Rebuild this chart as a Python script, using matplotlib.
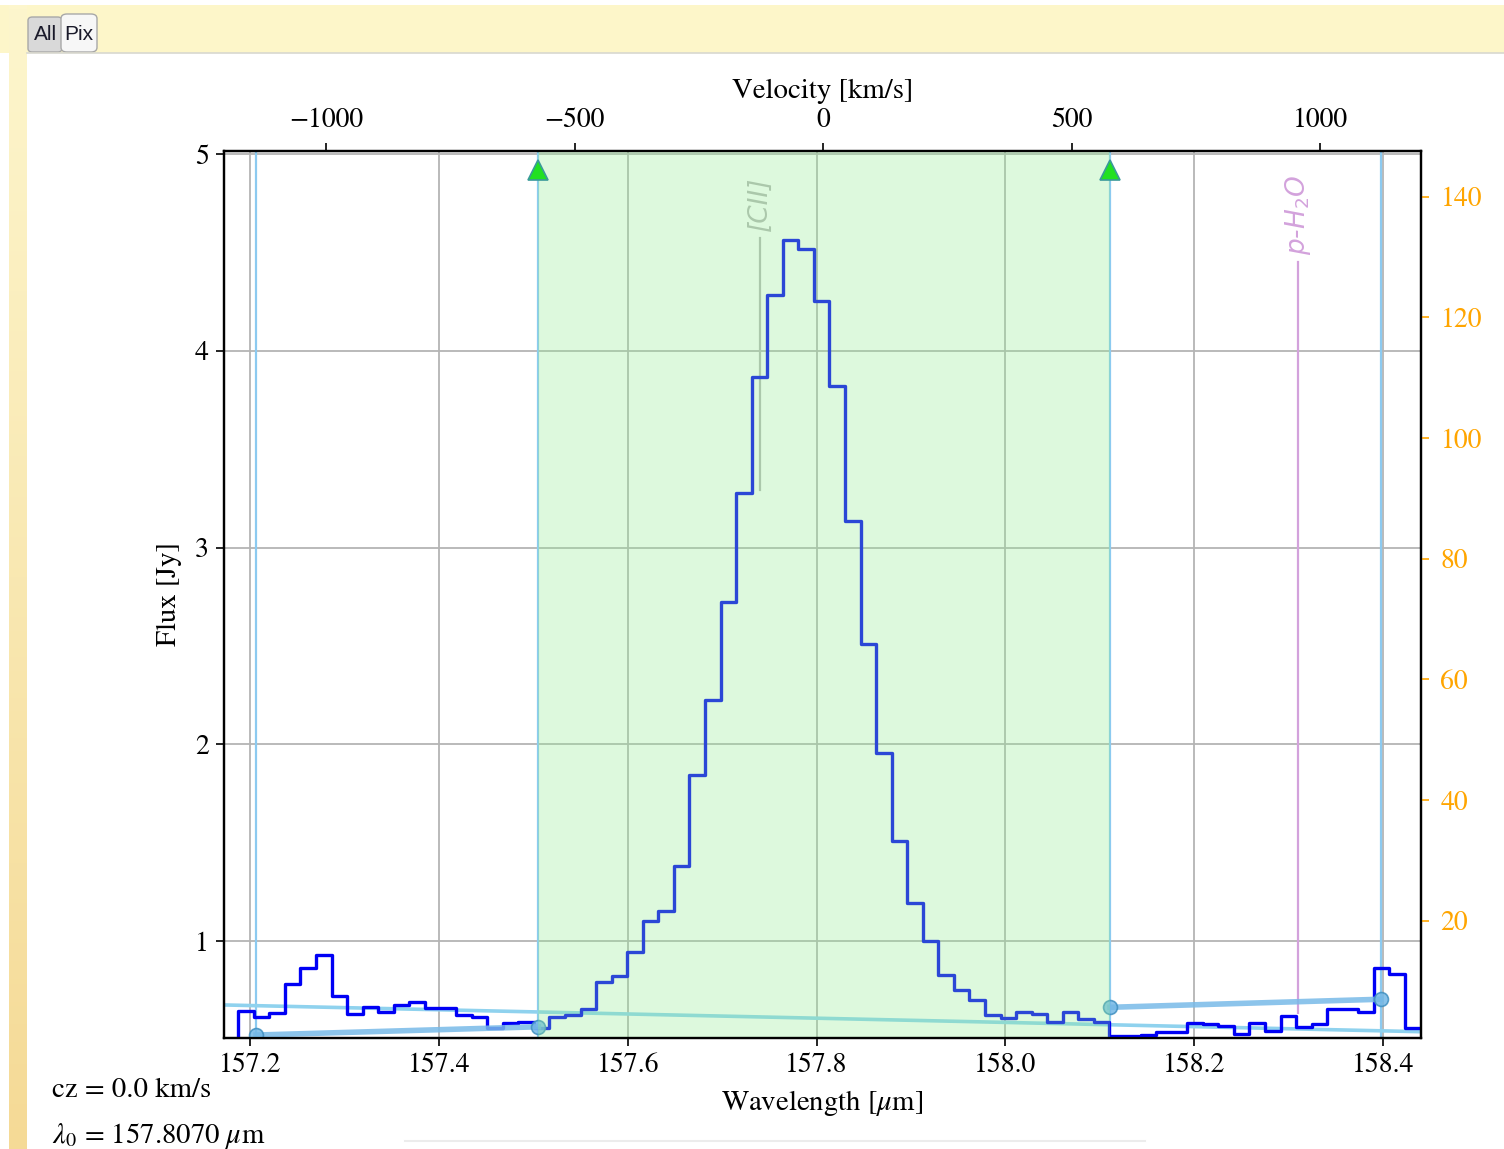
#!/usr/bin/env python3

#This script draws the [CII] 158 micron spectrum of one spaxel with the line window,
#the continuum anchor points and a velocity scale on the top axis

###########################
####### PREPARATION #######
###########################

#Import necessary libraries
import numpy as np
import matplotlib.pyplot as plt
from matplotlib.patches import Rectangle, FancyBboxPatch
from matplotlib.lines import Line2D

plt.rcParams["font.family"] = ["STIXGeneral", "Liberation Serif", "DejaVu Serif"]
plt.rcParams["mathtext.fontset"] = "stix"
plt.rcParams["axes.unicode_minus"] = True

###########################
########## DATA ###########
###########################

#Rest wavelength of the line (micron), redshift and speed of light
lambda_0 = 157.8070
cz = 0.0
c_kms = 299792.458

#Spectrum: wavelength of each spectral pixel (micron) and flux (Jy)
wavelength = [
    157.1794, 157.1959, 157.2123, 157.2288, 157.2453, 157.2617, 157.2782, 157.2947,
    157.3112, 157.3276, 157.3441, 157.3606, 157.3771, 157.3935, 157.4100, 157.4265,
    157.4429, 157.4594, 157.4759, 157.4924, 157.5088, 157.5253, 157.5418, 157.5582,
    157.5747, 157.5912, 157.6077, 157.6241, 157.6406, 157.6571, 157.6736, 157.6900,
    157.7065, 157.7230, 157.7394, 157.7559, 157.7724, 157.7889, 157.8053, 157.8218,
    157.8383, 157.8547, 157.8712, 157.8877, 157.9042, 157.9206, 157.9371, 157.9536,
    157.9701, 157.9865, 158.0030, 158.0195, 158.0359, 158.0524, 158.0689, 158.0854,
    158.1018, 158.1183, 158.1348, 158.1512, 158.1677, 158.1842, 158.2007, 158.2171,
    158.2336, 158.2501, 158.2666, 158.2830, 158.2995, 158.3160, 158.3324, 158.3489,
    158.3654, 158.3819, 158.3983, 158.4148, 158.4313, 158.4477,
]
flux = [
    0.450, 0.644, 0.615, 0.632, 0.781, 0.861, 0.929, 0.722,
    0.627, 0.666, 0.641, 0.675, 0.692, 0.659, 0.659, 0.624,
    0.614, 0.559, 0.581, 0.588, 0.556, 0.616, 0.624, 0.653,
    0.790, 0.823, 0.946, 1.100, 1.151, 1.379, 1.846, 2.224,
    2.722, 3.279, 3.868, 4.283, 4.563, 4.519, 4.252, 3.821,
    3.137, 2.510, 1.956, 1.509, 1.192, 0.998, 0.827, 0.753,
    0.699, 0.625, 0.607, 0.637, 0.628, 0.586, 0.637, 0.602,
    0.586, 0.515, 0.515, 0.524, 0.539, 0.539, 0.585, 0.577,
    0.568, 0.526, 0.585, 0.544, 0.620, 0.564, 0.578, 0.654,
    0.654, 0.641, 0.864, 0.831, 0.556, 0.556,
]

#Continuum anchor points on each side of the line (micron, Jy)
cont_left_wave = [157.2064, 157.5053]
cont_left_flux = [0.522, 0.564]
cont_right_wave = [158.1106, 158.3973]
cont_right_flux = [0.663, 0.704]

#Global baseline across the plotted range (micron, Jy)
baseline_wave = [157.1725, 158.4400]
baseline_flux = [0.675, 0.539]

#Line integration window (micron)
window_wave = [157.5053, 158.1106]

#Line identifications
line_names = ["[CII]", "p-H$_2$O"]
line_waves = [157.7400, 158.3097]
line_tops = [4.574, 4.452]
line_bottoms = [3.293, 0.635]
line_colors = ["#b8b8b8", "#d3a2dc"]

#Axis ranges and ticks
wave_range = [157.1725, 158.4400]
flux_range = [0.507, 5.016]
right_range = [0.56, 147.6]
wave_ticks = [157.2, 157.4, 157.6, 157.8, 158.0, 158.2, 158.4]
flux_ticks = [1, 2, 3, 4, 5]
right_ticks = [20, 40, 60, 80, 100, 120, 140]
velocity_ticks = [-1000, -500, 0, 500, 1000]

###########################
######## FUNCTIONS ########
###########################

#Conversions between wavelength and velocity for the top axis
def wave_to_vel(wave):
    return c_kms * (np.asarray(wave) - lambda_0) / lambda_0

def vel_to_wave(vel):
    return lambda_0 * (1.0 + np.asarray(vel) / c_kms)

#Pixel helpers for the window frame (origin at the top left)
W, H = 1504, 1149

def fx(x):
    return x / W

def fy(y):
    return 1.0 - y / H

###########################
########## FRAME ##########
###########################

fig = plt.figure(figsize=(W / 100, H / 100), dpi=100)
fig.patch.set_facecolor("white")

#Top tab bar
fig.add_artist(Rectangle((fx(0), fy(53)), 1.0, 48 / H, transform=fig.transFigure,
                         facecolor="#fdf6c9", edgecolor="none", zorder=-5))

#Left side bar with a soft gradient
side = fig.add_axes([fx(9), 0.0, 18 / W, 1.0 - 5 / H], zorder=-4)
top_col = np.array([253, 246, 205]) / 255
bottom_col = np.array([245, 218, 150]) / 255
shade = np.linspace(0, 1, 256)[:, None, None]
side.imshow(top_col * (1 - shade) + bottom_col * shade, aspect="auto")
side.set_axis_off()

#Border under the tabs
fig.add_artist(Line2D([fx(27), 1.0], [fy(52.5), fy(52.5)], transform=fig.transFigure,
                      color="#d8d8d0", linewidth=1.2))
fig.add_artist(Line2D([fx(405), fx(1145)], [fy(1141), fy(1141)], transform=fig.transFigure,
                      color="#ececec", linewidth=1.5))

#Tabs
fig.add_artist(FancyBboxPatch((fx(28), fy(52)), 34 / W, 35 / H, transform=fig.transFigure,
                              boxstyle="round,pad=0,rounding_size=0.003",
                              facecolor="#d9d9d9", edgecolor="#a8a8a8", linewidth=1.0))
fig.add_artist(FancyBboxPatch((fx(61), fy(52)), 36 / W, 38 / H, transform=fig.transFigure,
                              boxstyle="round,pad=0,rounding_size=0.004",
                              facecolor="#f7f7f7", edgecolor="#a8a8a8", linewidth=1.0))
fig.text(fx(45.5), fy(35), "All", fontsize=15, family="Liberation Sans",
         color="#1a1a2a", ha="center", va="center")
fig.text(fx(79), fy(34), "Pix", fontsize=15, family="Liberation Sans",
         color="#1a1a2a", ha="center", va="center")

###########################
########### PLOT ##########
###########################

ax = fig.add_axes([fx(224), fy(1038), 1197 / W, 887 / H])

#Grid
ax.set_xticks(wave_ticks)
ax.set_yticks(flux_ticks)
ax.grid(True, color="#b4b4b4", linewidth=1.3, zorder=0)
ax.set_axisbelow(True)

#Vertical markers at the continuum anchors
for w in cont_left_wave + cont_right_wave:
    ax.axvline(w, color="#8ccaf0", linewidth=1.6, zorder=1)

#Global baseline
ax.plot(baseline_wave, baseline_flux, color="#8fd2ee", linewidth=2.6, zorder=2)

#Spectrum
ax.plot(wavelength, flux, drawstyle="steps-mid", color="#0000f5", linewidth=2.4, zorder=3)

#Continuum segments with their anchor points
for cw, cf in [(cont_left_wave, cont_left_flux), (cont_right_wave, cont_right_flux)]:
    ax.plot(cw, cf, color="#78bae8", linewidth=4.0, alpha=0.85, zorder=4,
            marker="o", markersize=10, markerfacecolor="#74b8e6",
            markeredgecolor="#3f8fc0", markeredgewidth=1.2)

#Line identifications
for name, w, top, bottom, col in zip(line_names, line_waves, line_tops, line_bottoms, line_colors):
    ax.plot([w, w], [bottom, top], color=col, linewidth=1.6, zorder=2)
    ax.text(w, top + 0.035, name, rotation=90, ha="center", va="bottom", color=col,
            fontsize=19, family="DejaVu Sans", style="italic",
            math_fontfamily="dejavusans", zorder=2)

#Line window shading
ax.axvspan(window_wave[0], window_wave[1], color="lightgreen", alpha=0.3,
           linewidth=0, zorder=6)

#Window handles
ax.plot(window_wave, [4.92, 4.92], linestyle="none", marker="^", markersize=15,
        markerfacecolor="#22e022", markeredgecolor="#3a9a9a", markeredgewidth=1.2,
        zorder=7, clip_on=False)

ax.set_xlim(wave_range)
ax.set_ylim(flux_range)
ax.set_xticklabels([f"{t:.1f}" for t in wave_ticks])
ax.set_xlabel(r"Wavelength [$\mu$m]", fontsize=20.7, labelpad=7)
ax.set_ylabel("Flux [Jy]", fontsize=20.7, labelpad=9)
ax.tick_params(direction="out", length=6, width=1.2, labelsize=20, pad=5)
for s in ax.spines.values():
    s.set_linewidth(1.6)

#Right axis
ax2 = ax.twinx()
ax2.set_ylim(right_range)
ax2.set_yticks(right_ticks)
ax2.tick_params(axis="y", direction="out", length=6, width=1.2, labelsize=20,
                colors="orange", pad=8)
ax2.spines["right"].set_color("black")
for s in ax2.spines.values():
    s.set_linewidth(1.6)

#Velocity axis
sec = ax.secondary_xaxis("top", functions=(wave_to_vel, vel_to_wave))
sec.set_xticks(velocity_ticks)
sec.set_xlabel("Velocity [km/s]", fontsize=20.7, labelpad=7)
sec.tick_params(direction="out", length=6, width=1.2, labelsize=20, pad=7)

#Redshift and rest wavelength
fig.text(fx(52), fy(1090), f"cz = {cz:.1f} km/s", fontsize=20.7, va="center", ha="left")
fig.text(fx(52), fy(1136), rf"$\lambda_0$ = {lambda_0:.4f} $\mu$m", fontsize=20.7,
         va="center", ha="left")

#Save plot
fig.savefig("out.png", dpi=100)
plt.close(fig)
